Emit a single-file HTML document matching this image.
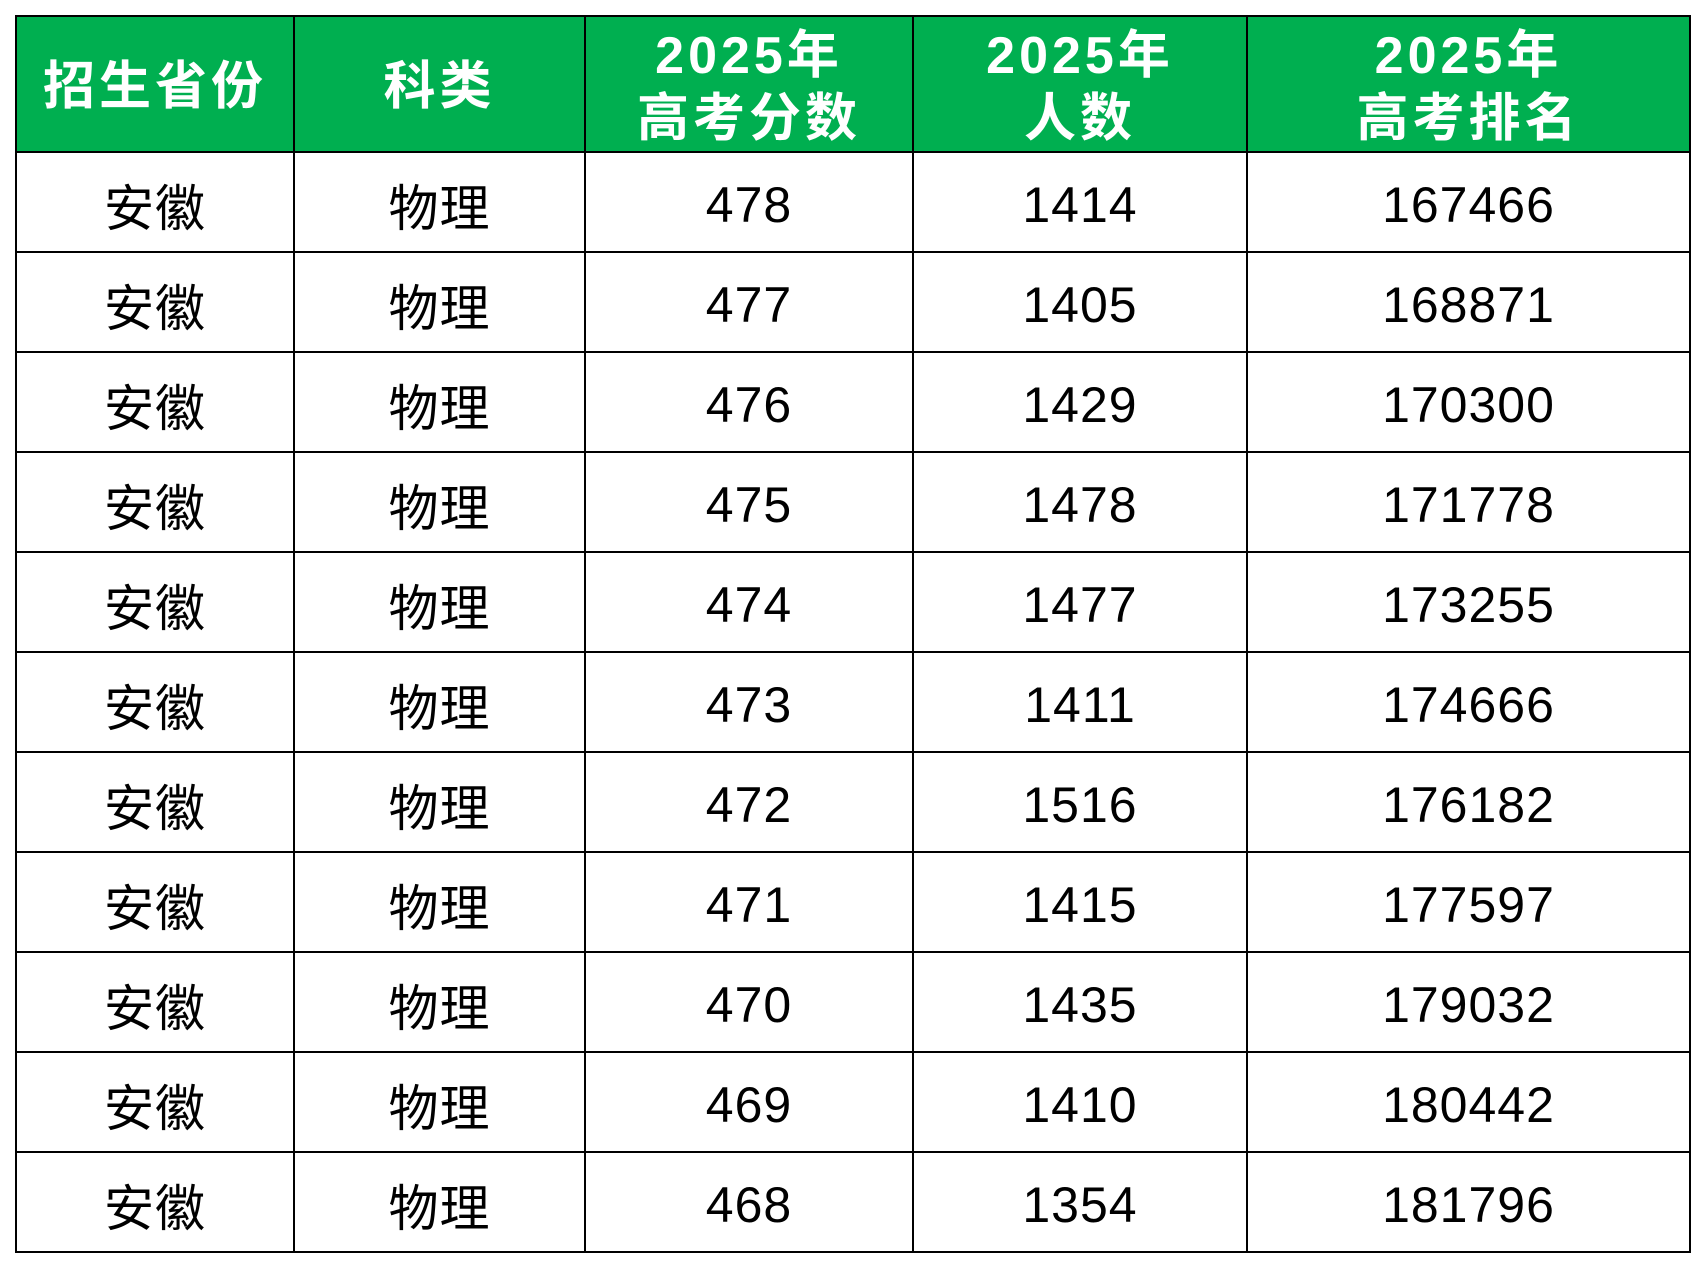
<!DOCTYPE html>
<html><head><meta charset="utf-8"><style>
html,body{margin:0;padding:0;background:#fff;width:1704px;height:1268px;overflow:hidden}
table{position:absolute;left:15px;top:15px;border-collapse:collapse;table-layout:fixed;width:1674px;font-family:"Liberation Sans","Noto Sans CJK SC",sans-serif}
td,th{border:2.5px solid #000;text-align:center;padding:0;font-size:50px;color:#000;font-weight:normal}
tr.h{height:136px}
tr{height:100px}
th{background:#00AF50;color:#fff;line-height:63px;font-weight:bold;letter-spacing:4px;font-size:52px;padding-top:7px}
td{letter-spacing:1px;padding-top:6px}
</style></head><body>
<table>
<colgroup><col style="width:278px"><col style="width:291px"><col style="width:328px"><col style="width:334px"><col style="width:443px"></colgroup>
<tr class="h"><th>招生省份</th><th>科类</th><th>2025年<br>高考分数</th><th>2025年<br>人数</th><th>2025年<br>高考排名</th></tr>
<tr><td>安徽</td><td>物理</td><td>478</td><td>1414</td><td>167466</td></tr>
<tr><td>安徽</td><td>物理</td><td>477</td><td>1405</td><td>168871</td></tr>
<tr><td>安徽</td><td>物理</td><td>476</td><td>1429</td><td>170300</td></tr>
<tr><td>安徽</td><td>物理</td><td>475</td><td>1478</td><td>171778</td></tr>
<tr><td>安徽</td><td>物理</td><td>474</td><td>1477</td><td>173255</td></tr>
<tr><td>安徽</td><td>物理</td><td>473</td><td>1411</td><td>174666</td></tr>
<tr><td>安徽</td><td>物理</td><td>472</td><td>1516</td><td>176182</td></tr>
<tr><td>安徽</td><td>物理</td><td>471</td><td>1415</td><td>177597</td></tr>
<tr><td>安徽</td><td>物理</td><td>470</td><td>1435</td><td>179032</td></tr>
<tr><td>安徽</td><td>物理</td><td>469</td><td>1410</td><td>180442</td></tr>
<tr><td>安徽</td><td>物理</td><td>468</td><td>1354</td><td>181796</td></tr>
</table>
</body></html>
